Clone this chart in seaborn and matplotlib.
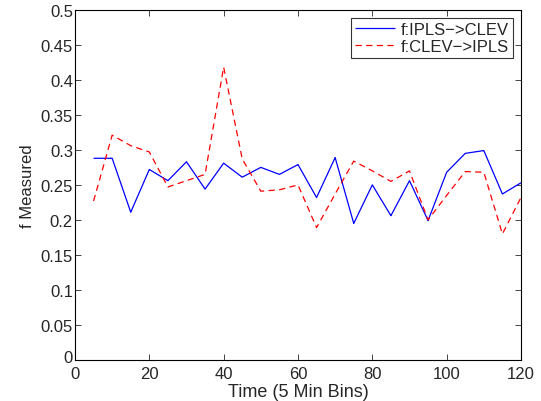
import numpy as np
import pandas as pd
import seaborn as sns
import matplotlib.pyplot as plt
from matplotlib.transforms import ScaledTranslation

# time bins (5 min bins)
time_bins = [5, 10, 15, 20, 25, 30, 35, 40, 45, 50, 55, 60,
             65, 70, 75, 80, 85, 90, 95, 100, 105, 110, 115, 120]

# f measured, IPLS -> CLEV
f_ipls_clev = [0.288, 0.288, 0.211, 0.272, 0.256, 0.283, 0.244, 0.281, 0.261, 0.275, 0.265, 0.279,
               0.232, 0.289, 0.195, 0.250, 0.206, 0.256, 0.199, 0.268, 0.295, 0.299, 0.237, 0.253]

# f measured, CLEV -> IPLS
f_clev_ipls = [0.227, 0.321, 0.306, 0.297, 0.247, 0.256, 0.265, 0.418, 0.287, 0.241, 0.243, 0.250,
               0.189, 0.237, 0.284, 0.270, 0.255, 0.270, 0.200, 0.235, 0.269, 0.268, 0.180, 0.232]

series_names = ['f:IPLS\u2212>CLEV', 'f:CLEV\u2212>IPLS']


def main():
	sns.set_style("ticks")
	plt.rcParams['font.family'] = ['Liberation Sans', 'DejaVu Sans']
	plt.rcParams['xtick.direction'] = 'in'
	plt.rcParams['ytick.direction'] = 'in'

	df = pd.DataFrame({
		'time': time_bins * 2,
		'f': f_ipls_clev + f_clev_ipls,
		'series': [series_names[0]] * len(time_bins) + [series_names[1]] * len(time_bins),
	})

	fig = plt.figure(figsize=(5.41, 4.02), dpi=100)
	ax = fig.add_axes([0.1386, 0.102, 0.8244, 0.8712])

	sns.lineplot(data=df, x='time', y='f', hue='series', style='series',
				 palette=['#0000ff', '#ff0000'], dashes=[(1, 0), (5, 3.5)],
				 linewidth=0.9, ax=ax)

	ax.set_xlim(0, 120)
	ax.set_ylim(0, 0.5)
	ax.set_xticks(np.arange(0, 121, 20))
	ax.set_yticks(np.arange(0, 0.501, 0.05))
	ax.set_yticklabels(['0', '0.05', '0.1', '0.15', '0.2', '0.25', '0.3', '0.35', '0.4', '0.45', '0.5'])
	ax.tick_params(labelsize=12, top=True, right=True, length=4, width=0.6)
	ax.tick_params(axis='x', pad=4)
	ax.tick_params(axis='y', pad=1.5)
	for s in ax.spines.values():
		s.set_visible(True)
		s.set_linewidth(0.8)
		s.set_color('black')

	# matlab puts the y "0" a little above the axis line
	ylabs = ax.get_yticklabels()
	ylabs[0].set_transform(ylabs[0].get_transform() + ScaledTranslation(0, 3 / 72, fig.dpi_scale_trans))

	ax.set_xlabel('Time (5 Min Bins)', fontsize=13, labelpad=2)
	ax.set_ylabel('f Measured', fontsize=12, labelpad=4)

	leg = ax.legend(loc='upper right', fontsize=12, frameon=True, fancybox=False,
					handlelength=2.4, handletextpad=0.3, borderpad=0.25,
					labelspacing=0.1, borderaxespad=0.5)
	leg.get_frame().set_edgecolor('black')
	leg.get_frame().set_linewidth(0.8)

	fig.savefig('out.png', dpi=100)


if __name__ == "__main__":
	main()
